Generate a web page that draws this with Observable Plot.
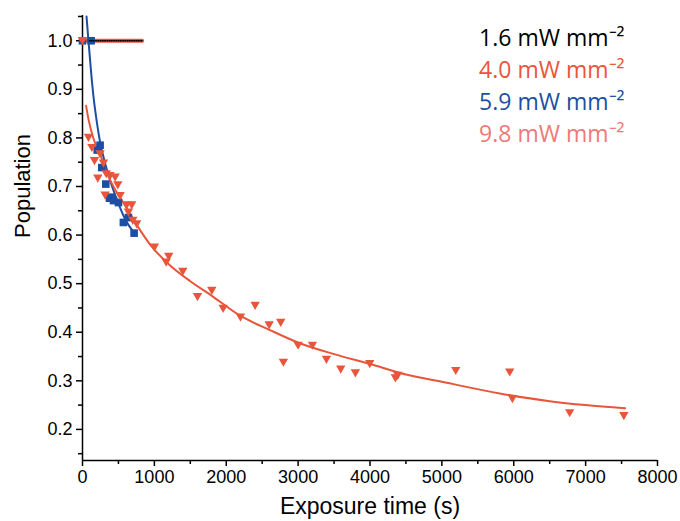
<!DOCTYPE html>
<html><head><meta charset="utf-8">
<script src="https://cdn.jsdelivr.net/npm/d3@7"></script>
<script src="https://cdn.jsdelivr.net/npm/@observablehq/plot@0.6"></script>
<style>body{margin:0;background:#fff}</style>
</head><body><div id="chart"></div>
<script>
// 1.6 mW mm-2 : flat at 1.0
const t16 = [100,125,150,175,200,225,250,275,300,325,350,375,400,425,450,475,500,525,550,575,600,625,650,675,700,725,750,775,800,825];
const p16 = [1,1,1,1,1,1,1,1,1,1,1,1,1,1,1,1,1,1,1,1,1,1,1,1,1,1,1,1,1,1];
// 9.8 mW mm-2 : line at 1.0
const t98 = [0, 830];
const p98 = [1.0, 1.0];
// 4.0 mW mm-2 data (triangles)
const t40 = [0,83,130,167,213,245,292,315,330,384,454,491,523,615,639,685,700,754,1001,1164,1200,1395,1600,1799,1957,2198,2402,2597,2758,2795,3000,3199,3394,3593,3797,3996,4353,4386,5193,5944,5981,6778,7532];
const p40 = [1.0,0.801,0.78,0.753,0.717,0.767,0.748,0.682,0.726,0.722,0.719,0.703,0.681,0.662,0.647,0.662,0.63,0.623,0.575,0.544,0.556,0.525,0.473,0.486,0.449,0.431,0.455,0.415,0.42,0.338,0.373,0.373,0.344,0.324,0.316,0.335,0.306,0.311,0.321,0.318,0.263,0.234,0.228];
// 4.0 fit curve
const t40fit = [50,88,150,250,319,450,597,750,944,1200,1500,1800,2194,2600,2996,3500,3990,4500,5000,5806,6500,7000,7550];
const p40fit = [0.866,0.835,0.80,0.765,0.735,0.695,0.66,0.622,0.58,0.54,0.505,0.475,0.434,0.405,0.379,0.355,0.335,0.313,0.298,0.274,0.258,0.25,0.2435];
// 5.9 mW mm-2 data (squares)
const t59 = [0,120,205,245,268,324,375,407,431,500,569,639,718];
const p59 = [1.0,1.0,0.775,0.785,0.739,0.705,0.676,0.678,0.671,0.667,0.626,0.636,0.604];
// 5.9 fit curve
const t59fit = [56,83,120,153,200,245,320,407,500,593,731];
const p59fit = [1.05,1.0,0.935,0.885,0.832,0.791,0.745,0.702,0.665,0.633,0.602];

const xMajor = [0,1000,2000,3000,4000,5000,6000,7000,8000];
const xMinor = [500,1500,2500,3500,4500,5500,6500,7500];
const yMajor = [0.2,0.3,0.4,0.5,0.6,0.7,0.8,0.9,1.0];
const yMinor = [0.15,0.25,0.35,0.45,0.55,0.65,0.75,0.85,0.95,1.05];
const xTitle = "Exposure time (s)";
const yTitle = "Population";
const legendLabels = ["1.6 mW mm⁻²","4.0 mW mm⁻²","5.9 mW mm⁻²","9.8 mW mm⁻²"];
const legendColors = ["#000000","#e9553b","#1c4fa3","#ee7a78"];

const zip = (a, b) => a.map((v, i) => ({x: v, y: b[i]}));

const triDown = {
  draw(ctx, size) {
    const r = Math.sqrt(size) / 2;
    ctx.moveTo(-r * 1.2, -r * 0.95);
    ctx.lineTo(r * 1.2, -r * 0.95);
    ctx.lineTo(0, r * 1.15);
    ctx.closePath();
  }
};

const legendMarks = legendLabels.map((s, i) => Plot.text([s], {
  text: d => d, frameAnchor: "top-right", textAnchor: "end", lineAnchor: "bottom",
  dx: -33, dy: 30 + i * 32, fill: legendColors[i],
  fontSize: 23, fontFamily: "Open Sans", style: "letter-spacing:4px"
}));

const chart = Plot.plot({
  width: 680, height: 521,
  marginLeft: 82, marginRight: 23, marginTop: 15, marginBottom: 61,
  style: {fontFamily: "Liberation Sans, Arial, sans-serif", fontSize: "18px", color: "#000", background: "#fff"},
  x: {domain: [0, 8000]},
  y: {domain: [0.136, 1.052]},
  marks: [
    Plot.axisX(xMajor, {tickSize: 6, tickPadding: 4, fontSize: 18, strokeWidth: 1.5, tickFormat: d => String(d), label: null}),
    Plot.axisX(xMinor, {tickSize: 4, strokeWidth: 1.5, tickFormat: () => "", label: null}),
    Plot.axisY(yMajor, {tickSize: 6, tickPadding: 4, fontSize: 18, strokeWidth: 1.5, tickFormat: d => d.toFixed(1), label: null}),
    Plot.axisY(yMinor, {tickSize: 4, strokeWidth: 1.5, tickFormat: () => "", label: null}),
    Plot.text([xTitle], {text: d => d, frameAnchor: "bottom", lineAnchor: "bottom", dy: 53, fontSize: 23, fill: "#000"}),
    Plot.text([yTitle], {text: d => d, frameAnchor: "left", rotate: -90, dx: -60, fontSize: 22, fill: "#000"}),
    Plot.ruleX([0], {stroke: "#000", strokeWidth: 1.5}),
    Plot.ruleY([0.136], {stroke: "#000", strokeWidth: 1.5}),
    Plot.line(zip(t98, p98), {x: "x", y: "y", stroke: "#e9553b", strokeWidth: 4}),
    Plot.line(zip(t59fit, p59fit), {x: "x", y: "y", stroke: "#1c4fa3", strokeWidth: 2, curve: "monotone-x"}),
    Plot.line(zip(t40fit, p40fit), {x: "x", y: "y", stroke: "#e9553b", strokeWidth: 2, curve: "monotone-x"}),
    Plot.dot(zip(t59, p59), {x: "x", y: "y", symbol: "square", r: 4.3, fill: "#1c4fa3", stroke: "none"}),
    Plot.dot(zip(t40, p40), {x: "x", y: "y", symbol: triDown, r: 4.4, fill: "#e9553b", stroke: "none"}),
    Plot.dot(zip(t16, p16), {x: "x", y: "y", symbol: "square", r: 0.9, fill: "#000", stroke: "none"}),
    ...legendMarks
  ]
});
document.getElementById("chart").append(chart);
</script>
</body></html>
